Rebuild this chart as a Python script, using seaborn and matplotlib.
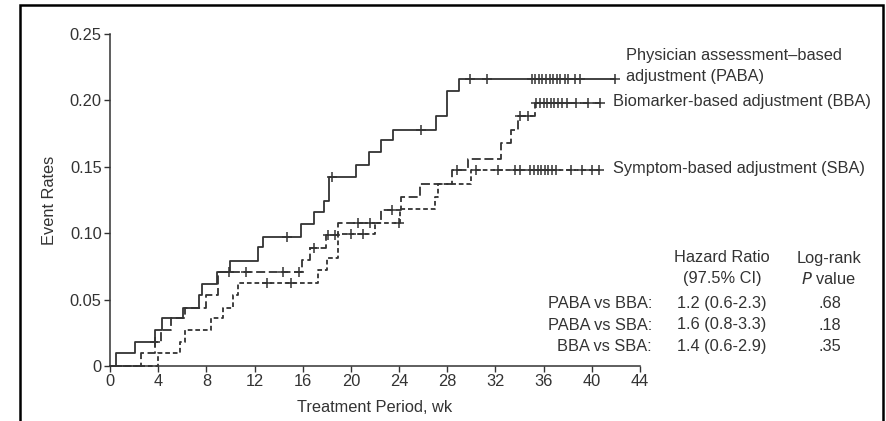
import numpy as np
import pandas as pd
import matplotlib
matplotlib.use("Agg")
import matplotlib.pyplot as plt
import seaborn as sns
from matplotlib.patches import Rectangle

# step curves: time of each event (wk) and cumulative event rate after it
paba_t = [0, 0.47, 2.07, 3.75, 4.35, 6.1, 7.4, 7.6, 8.85, 10.0, 12.3, 12.7,
          15.85, 16.9, 17.8, 18.15, 20.4, 21.5, 22.5, 23.5, 27.1, 28.0, 29.0]
paba_v = [0, 0.0095, 0.018, 0.027, 0.036, 0.044, 0.0535, 0.0617, 0.0705, 0.079, 0.0898, 0.097,
          0.107, 0.116, 0.124, 0.1425, 0.151, 0.161, 0.170, 0.178, 0.188, 0.207, 0.216]
paba_cens = [3.7, 9.9, 14.7, 18.4, 25.8, 29.9, 31.3, 35.0, 35.3, 35.6, 35.9, 36.2, 36.5,
             36.8, 37.1, 37.4, 37.8, 38.0, 38.6, 39.0, 41.9]

bba_t = [0, 2.6, 3.7, 4.2, 5.1, 6.2, 8.0, 9.0, 15.9, 16.6, 17.9, 18.95, 22.5, 24.2,
         25.7, 28.4, 29.7, 32.5, 33.3, 33.9, 35.3]
bba_v = [0, 0.0095, 0.018, 0.027, 0.036, 0.044, 0.0535, 0.071, 0.080, 0.089, 0.0986, 0.108,
         0.1175, 0.1275, 0.137, 0.1476, 0.156, 0.168, 0.178, 0.188, 0.198]
bba_cens = [11.3, 14.4, 15.7, 16.9, 18.1, 18.7, 20.6, 21.6, 23.4, 28.8, 34.0, 34.7, 35.4,
            35.7, 36.0, 36.3, 36.6, 36.9, 37.2, 37.5, 37.9, 38.7, 39.7, 40.7]

sba_t = [0, 4.0, 5.8, 6.2, 8.4, 9.4, 10.2, 10.6, 17.3, 18.0, 18.95, 22.0, 24.1, 27.0,
         27.25, 30.0]
sba_v = [0, 0.0095, 0.018, 0.027, 0.036, 0.044, 0.0535, 0.0627, 0.072, 0.081, 0.0994,
         0.108, 0.118, 0.1275, 0.137, 0.1476]
sba_cens = [13.0, 15.0, 20.0, 21.0, 24.0, 30.4, 32.2, 33.6, 34.0, 34.9, 35.2, 35.5, 35.8,
            36.1, 36.4, 36.7, 37.0, 38.3, 39.2, 40.0, 40.6]

labels = ["Physician assessment\u2013based\nadjustment (PABA)",
          "Biomarker-based adjustment (BBA)",
          "Symptom-based adjustment (SBA)"]

comparisons = ["PABA vs BBA:", "PABA vs SBA:", "BBA vs SBA:"]
hazard = ["1.2 (0.6-2.3)", "1.6 (0.8-3.3)", "1.4 (0.6-2.9)"]
pvals = [".68", ".18", ".35"]

sns.set_style("ticks")
plt.rcParams["font.family"] = ["Liberation Sans", "DejaVu Sans"]
ink = "#333333"
fs = 11.8

W, H = 887, 421
fig = plt.figure(figsize=(W / 100, H / 100), dpi=100)
ax = fig.add_axes([110 / W, 1 - 366 / H, (640 - 110) / W, (366 - 34) / H])


def px(x, y):
    return x / W, 1 - y / H


curves = [(paba_t, paba_v, paba_cens, "-"),
          (bba_t, bba_v, bba_cens, (0, (5, 2))),
          (sba_t, sba_v, sba_cens, (0, (2.6, 1.6)))]

for t, v, cens, ls in curves:
    df = pd.DataFrame({"t": t + [max(cens)], "v": v + [v[-1]]})
    sns.lineplot(data=df, x="t", y="v", ax=ax, drawstyle="steps-post", estimator=None,
                 sort=False, color=ink, linewidth=1.3, linestyle=ls, clip_on=False)
    idx = np.searchsorted(t, cens, side="right") - 1
    cdf = pd.DataFrame({"t": cens, "v": np.array(v)[idx]})
    sns.scatterplot(data=cdf, x="t", y="v", ax=ax, marker="+", s=55, color=ink,
                    linewidth=1.1, clip_on=False, zorder=3)

ax.set_xlim(0, 44)
ax.set_ylim(0, 0.25)
ax.set_xticks(range(0, 45, 4))
ax.set_yticks([0, 0.05, 0.10, 0.15, 0.20, 0.25])
ax.set_yticklabels(["0", "0.05", "0.10", "0.15", "0.20", "0.25"])
ax.tick_params(axis="both", labelsize=fs, colors=ink, length=4, width=1, pad=2)
sns.despine(ax=ax)
for s in ["left", "bottom"]:
    ax.spines[s].set_color(ink)
    ax.spines[s].set_linewidth(1.1)
ax.set_xlabel("")
ax.set_ylabel("")
fig.text(*px(375, 408), "Treatment Period, wk", ha="center", va="center", fontsize=fs, color=ink)
fig.text(*px(50, 200), "Event Rates", ha="center", va="center", rotation=90, fontsize=fs, color=ink)

# curve labels
fig.text(*px(626, 55.5), labels[0].split("\n")[0], ha="left", va="center", fontsize=fs, color=ink)
fig.text(*px(626, 77), labels[0].split("\n")[1], ha="left", va="center", fontsize=fs, color=ink)
fig.text(*px(613, 101.5), labels[1], ha="left", va="center", fontsize=fs, color=ink)
fig.text(*px(613, 169), labels[2], ha="left", va="center", fontsize=fs, color=ink)

# hazard ratio table
fig.text(*px(722, 258), "Hazard Ratio", ha="center", va="center", fontsize=fs, color=ink)
fig.text(*px(722, 279), "(97.5% CI)", ha="center", va="center", fontsize=fs, color=ink)
fig.text(*px(829, 258), "Log-rank", ha="center", va="center", fontsize=fs, color=ink)
fig.text(*px(828, 279), "$\\it{P}$ value", ha="center", va="center", fontsize=fs, color=ink)
for i, (c, h, p) in enumerate(zip(comparisons, hazard, pvals)):
    y = 303.5 + i * 21.5
    fig.text(*px(652, y), c, ha="right", va="center", fontsize=fs, color=ink)
    fig.text(*px(722, y), h, ha="center", va="center", fontsize=fs, color=ink)
    fig.text(*px(830, y), p, ha="center", va="center", fontsize=fs, color=ink)

# frame around the figure
fig.add_artist(Rectangle(px(20, 460), (883 - 20) / W, (460 - 5) / H, transform=fig.transFigure,
                         fill=False, edgecolor="black", linewidth=1.8))

fig.savefig("out.png", dpi=100)
